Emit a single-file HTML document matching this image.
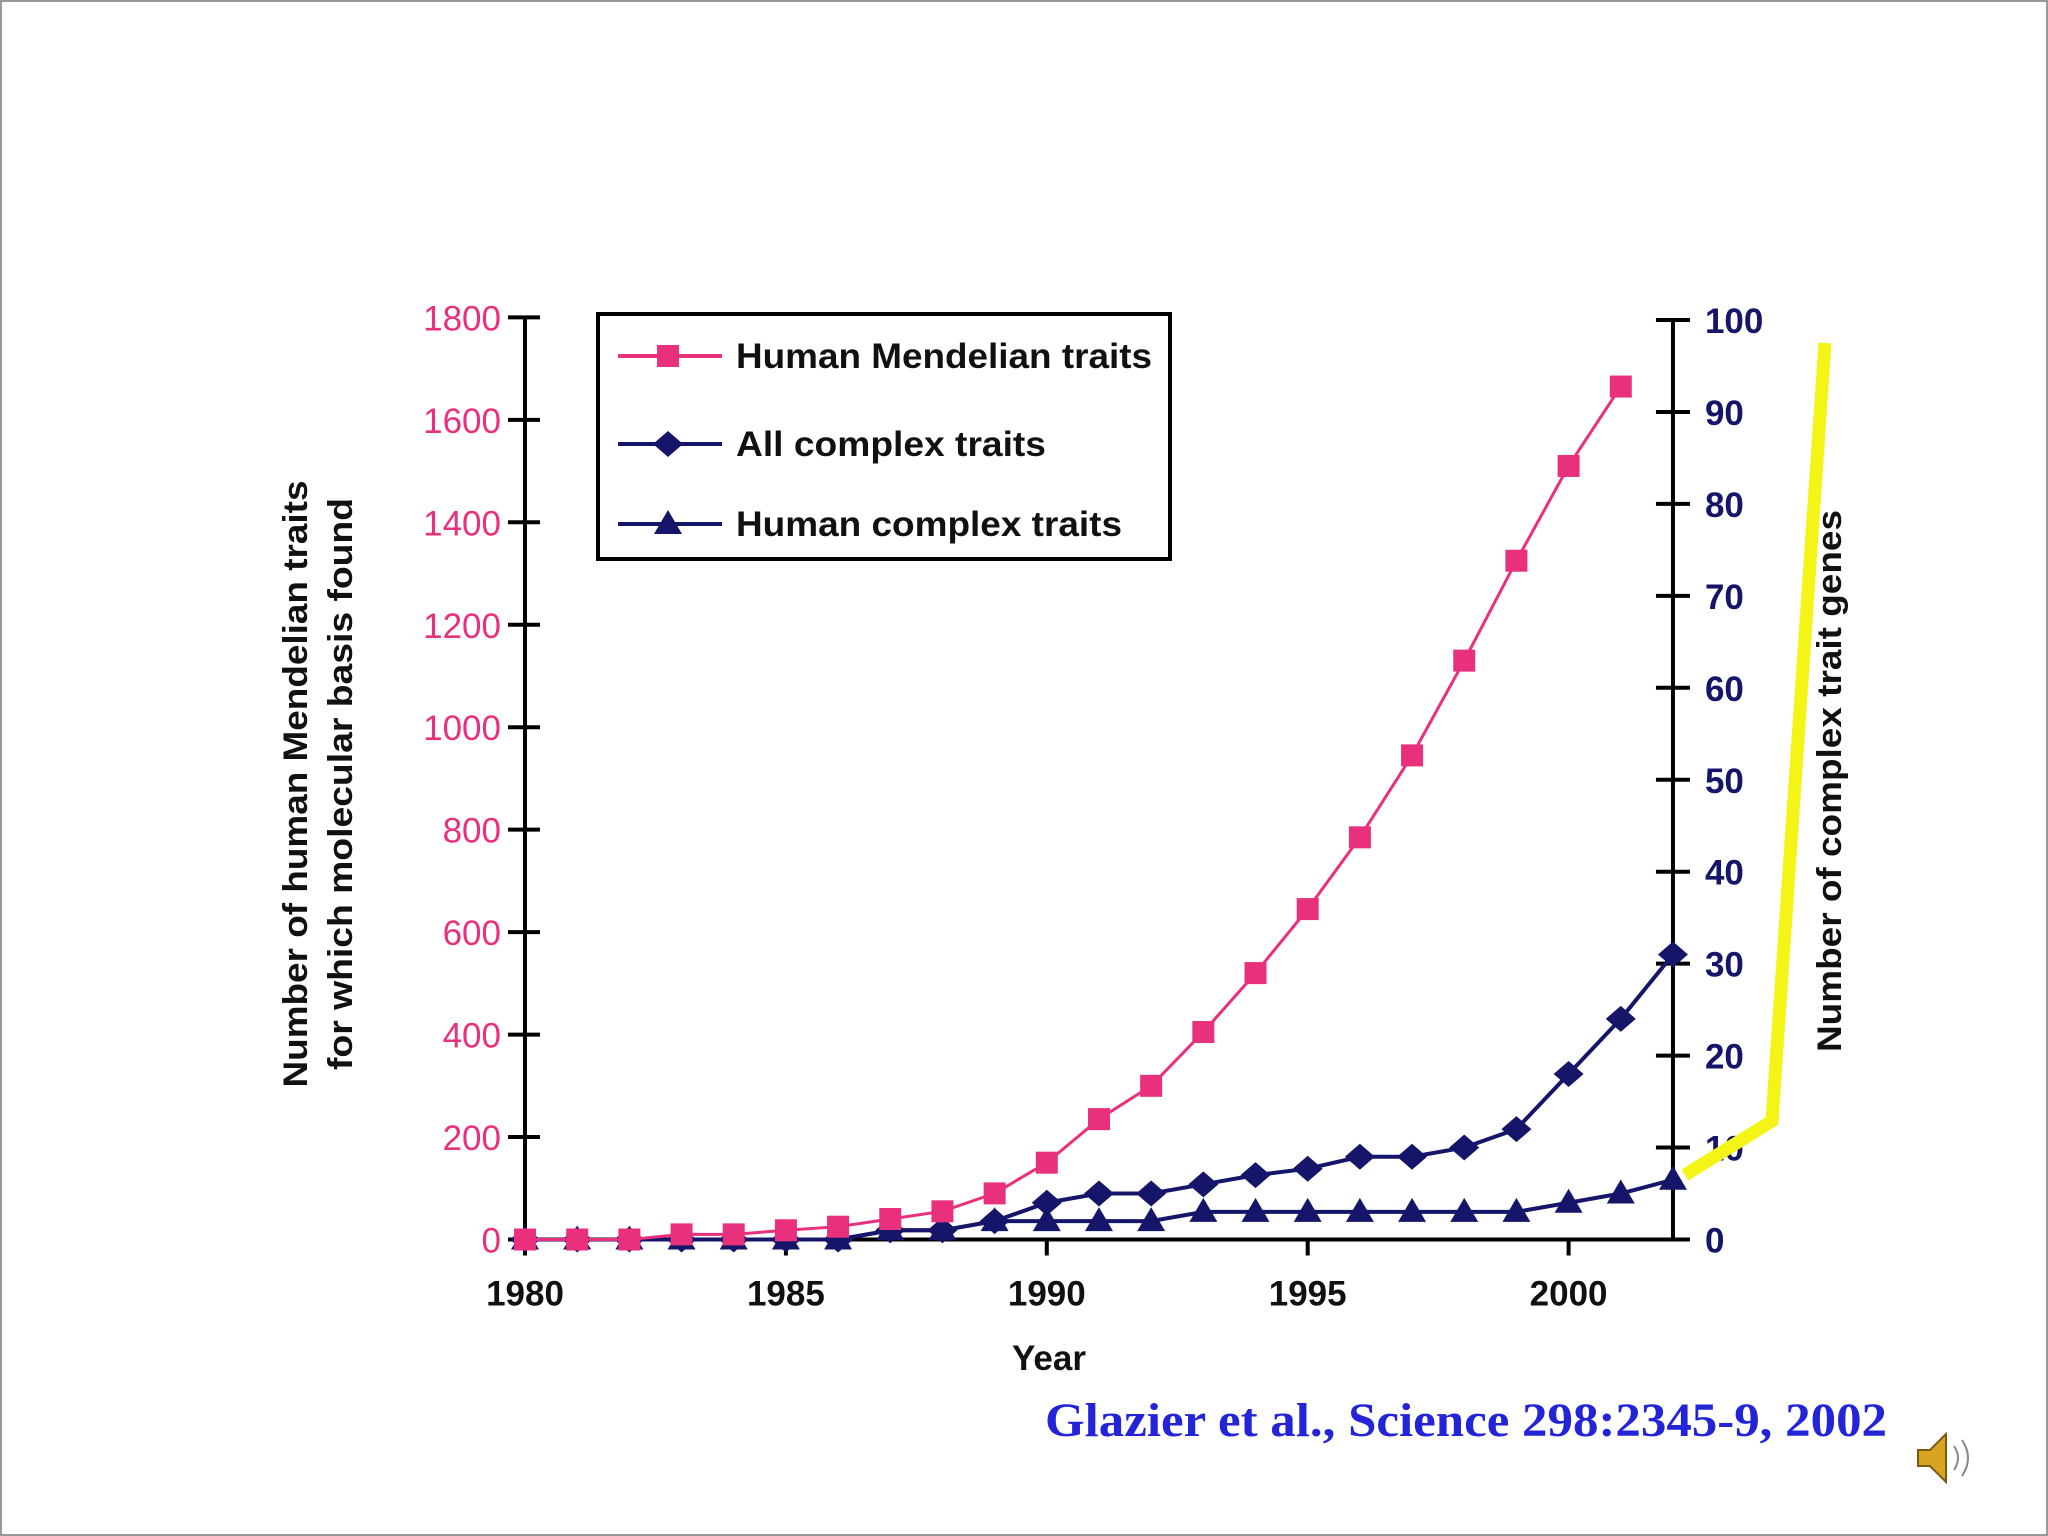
<!DOCTYPE html>
<html><head><meta charset="utf-8"><style>
body{margin:0;background:#fff;}
svg{display:block;}
text{font-family:"Liberation Sans",Arial,sans-serif;font-weight:bold;}
</style></head><body>
<svg id="chart" width="2048" height="1536" viewBox="0 0 2048 1536">
<rect x="1" y="1" width="2046" height="1534" fill="#fff" stroke="#999" stroke-width="2"/>
<g id="plot"></g>
</svg>
<script>
const years=[1980,1981,1982,1983,1984,1985,1986,1987,1988,1989,1990,1991,1992,1993,1994,1995,1996,1997,1998,1999,2000,2001,2002];
const mendelian=[0,0,0,10,10,18,25,40,55,90,150,235,300,405,520,645,785,945,1130,1325,1510,1665,null];
const allComplex=[0,0,0,0,0,0,0,1,1,2,4,5,5,6,7,7.7,9,9,10,12,18,24,31];
const humanComplex=[0,0,0,0,0,0,0,1,1,2,2,2,2,3,3,3,3,3,3,3,4,5,6.5];
const leftTicks=[0,200,400,600,800,1000,1200,1400,1600,1800];
const rightTicks=[0,10,20,30,40,50,60,70,80,90,100];
const xTicks=[1980,1985,1990,1995,2000];
const legendLabels=["Human Mendelian traits","All complex traits","Human complex traits"];

const NS="http://www.w3.org/2000/svg";
const g=document.getElementById('plot');
const X0=525,PXY=52.18,Y0=1239.5,YL=(1239.5-317.4)/1800,YR=(1239.5-320)/100;
const xs=v=>X0+(v-1980)*PXY, yl=v=>Y0-v*YL, yr=v=>Y0-v*YR;
const XR=xs(2002);
function mk(t,a,txt){const e=document.createElementNS(NS,t);for(const k in a)e.setAttribute(k,a[k]);if(txt!==undefined)e.textContent=txt;g.appendChild(e);return e;}
const PINK="#e8307c",NAVY="#15156a";

let e=mk('line',{x1:X0,y1:318,x2:X0,y2:Y0,stroke:'#000','stroke-width':4});

e=mk('line',{x1:XR,y1:320,x2:XR,y2:Y0,stroke:'#000','stroke-width':4});

e=mk('line',{x1:X0,y1:Y0,x2:XR,y2:Y0,stroke:'#000','stroke-width':4});


leftTicks.forEach(v=>{
 let t=mk('line',{x1:X0-17,x2:X0+15,y1:yl(v),y2:yl(v),stroke:'#000','stroke-width':4});
 
 t=mk('text',{x:X0-24,y:yl(v)+13,'text-anchor':'end','font-size':35,fill:PINK,style:'font-weight:normal'},v);
 
});
rightTicks.forEach(v=>{
 let t=mk('line',{x1:XR-17,x2:XR+17,y1:yr(v),y2:yr(v),stroke:'#000','stroke-width':4});
 
 t=mk('text',{x:XR+32,y:yr(v)+13,'font-size':35,fill:NAVY},v);
 
});
xTicks.forEach(v=>{
 let t=mk('line',{x1:xs(v),x2:xs(v),y1:Y0,y2:Y0+16,stroke:'#000','stroke-width':4});
 
 t=mk('text',{x:xs(v),y:Y0+66,'text-anchor':'middle','font-size':35,fill:'#111'},v);
 
});

function series(vals,yf,color,w,marker,name){
 const pts=[];vals.forEach((v,i)=>{if(v!==null)pts.push([xs(years[i]),yf(v)]);});
 let p=mk('polyline',{points:pts.map(q=>q.join(',')).join(' '),fill:'none',stroke:color,'stroke-width':w});
 
 pts.forEach(q=>{drawMarker(q[0],q[1],marker,color,name);});
}
function drawMarker(x,y,marker,color,name){
 let m;
 if(marker==='sq')m=mk('rect',{x:x-11,y:y-11,width:22,height:22,fill:color});
 else if(marker==='di')m=mk('polygon',{points:`${x},${y-13} ${x+15},${y} ${x},${y+13} ${x-15},${y}`,fill:color});
 else m=mk('polygon',{points:`${x},${y-14} ${x+14},${y+10} ${x-14},${y+10}`,fill:color});
 
}
series(humanComplex,yr,NAVY,4,'tri','human-complex');
series(allComplex,yr,NAVY,4,'di','all-complex');
series(mendelian,yl,PINK,3,'sq','mendelian');

e=mk('rect',{x:598,y:314,width:572,height:245,fill:'#fff',stroke:'#000','stroke-width':4});

const legY=[356,444,524],legC=[PINK,NAVY,NAVY],legM=['sq','di','tri'],legN=['mendelian','all-complex','human-complex'],legW=[416,310,386];
legendLabels.forEach((l,i)=>{
 let t=mk('line',{x1:618,x2:722,y1:legY[i],y2:legY[i],stroke:legC[i],'stroke-width':4});
 
 drawMarker(668,legY[i],legM[i],legC[i],'legend-'+legN[i]);
 t=mk('text',{x:736,y:legY[i]+12,'font-size':35,fill:'#111',textLength:legW[i],lengthAdjust:'spacingAndGlyphs'},l);
 
});

e=mk('text',{x:0,y:0,'font-size':34,fill:'#111','text-anchor':'middle',textLength:607,lengthAdjust:'spacingAndGlyphs',transform:'translate(307,784) rotate(-90)'},'Number of human Mendelian traits');

e=mk('text',{x:0,y:0,'font-size':34,fill:'#111','text-anchor':'middle',textLength:572,lengthAdjust:'spacingAndGlyphs',transform:'translate(352,784) rotate(-90)'},'for which molecular basis found');

e=mk('text',{x:0,y:0,'font-size':34,fill:'#111','text-anchor':'middle',textLength:542,lengthAdjust:'spacingAndGlyphs',transform:'translate(1841,781) rotate(-90)'},'Number of complex trait genes');

e=mk('text',{x:1049,y:1370,'font-size':35,fill:'#111','text-anchor':'middle'},'Year');


e=mk('polyline',{points:'1685,1175 1772,1121 1825,343',fill:'none',stroke:'#f4f416','stroke-width':13});


e=mk('text',{x:1045,y:1436,'font-size':48,fill:'#2323d8',textLength:842,lengthAdjust:'spacingAndGlyphs',style:'font-family:"Liberation Serif",serif;font-weight:bold'},'Glazier et al., Science 298:2345-9, 2002');


e=mk('polygon',{points:'1918,1450 1930,1450 1946,1434 1946,1482 1930,1466 1918,1466',fill:'#d9a520',stroke:'#7a5a10','stroke-width':2});

e=mk('path',{d:'M1954,1446 q8,12 0,24 M1962,1440 q12,18 0,36',fill:'none',stroke:'#888','stroke-width':2});

</script>
</body></html>
